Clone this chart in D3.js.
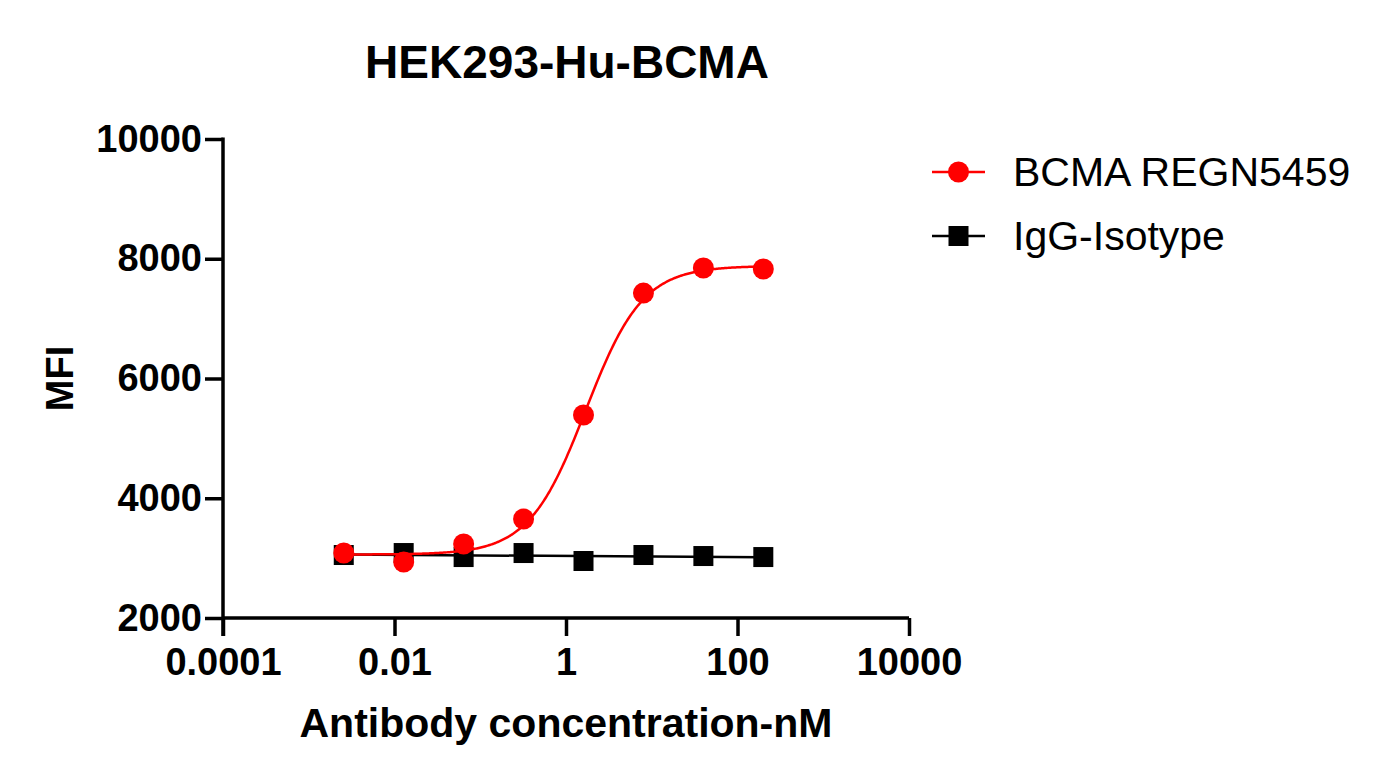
<!DOCTYPE html>
<html>
<head>
<meta charset="utf-8">
<script src="https://cdn.jsdelivr.net/npm/d3@7"></script>
<style>
  body { margin: 0; background: #fff; }
  text { font-family: "Liberation Sans", Arial, sans-serif; }
</style>
</head>
<body>
<script>
// data
const conc = [0.00256, 0.0128, 0.064, 0.32, 1.6, 8, 40, 200]
const bcma = [3085, 2935, 3236, 3653, 5390, 7427, 7845, 7828]
const isotype = [3052, 3085, 3018, 3085, 2952, 3052, 3035, 3018]
const xTicks = [0.0001, 0.01, 1, 100, 10000]
const xTickLabels = ['0.0001', '0.01', '1', '100', '10000']
const yTicks = [2000, 4000, 6000, 8000, 10000]
const seriesNames = ['BCMA REGN5459', 'IgG-Isotype']
// 4PL fit estimated for the red curve
const fitBottom = 3060, fitTop = 7880, fitLogEC50 = 0.23, fitHill = 1.31

const m = { width: 1389, height: 780, left: 223, right: 909, top: 139, bottom: 618 }

const svg = d3.select('body').append('svg')
    .attr('width', m.width)
    .attr('height', m.height)

const xScale = d3.scaleLog()
    .domain([0.0001, 10000])
    .range([m.left, m.right])

const yScale = d3.scaleLinear()
    .domain([2000, 10000])
    .range([m.bottom, m.top])

// axes
const xAxis = d3.axisBottom(xScale)
    .tickValues(xTicks)
    .tickFormat((d, i) => xTickLabels[i])
    .tickSize(18)
    .tickPadding(12)
svg.append('g')
    .attr('class', 'axis')
    .attr('transform', `translate(0,${m.bottom})`)
    .call(xAxis)

const yAxis = d3.axisLeft(yScale)
    .tickValues(yTicks)
    .tickFormat(d3.format('d'))
    .tickSize(18)
    .tickPadding(3)
svg.append('g')
    .attr('class', 'axis')
    .attr('transform', `translate(${m.left},0)`)
    .call(yAxis)

svg.selectAll('.axis line')
    .attr('stroke', '#000')
    .attr('stroke-width', 3.5)
svg.selectAll('.axis text')
    .attr('font-family', '"Liberation Sans", Arial, sans-serif')
    .attr('font-size', 38)
    .attr('font-weight', 'bold')
    .attr('fill', '#000')

// plain domain lines without outer end caps
svg.selectAll('.axis .domain').remove()
svg.append('line')
    .attr('x1', m.left).attr('x2', m.right)
    .attr('y1', m.bottom).attr('y2', m.bottom)
    .attr('stroke', '#000').attr('stroke-width', 3.5)
svg.append('line')
    .attr('x1', m.left).attr('x2', m.left)
    .attr('y1', m.top - 1.5).attr('y2', m.bottom + 18)
    .attr('stroke', '#000').attr('stroke-width', 3.5)

const line = d3.line()
    .x(d => xScale(d[0]))
    .y(d => yScale(d[1]))

// black line: least squares on log concentration
const lx = conc.map(Math.log10)
const mx = d3.mean(lx), my = d3.mean(isotype)
const slope = d3.sum(lx, (v, i) => (v - mx) * (isotype[i] - my)) / d3.sum(lx, v => (v - mx) ** 2)
const isoFit = x => my + slope * (Math.log10(x) - mx)

svg.append('path')
    .attr('d', line(d3.extent(conc).map(x => [x, isoFit(x)])))
    .attr('fill', 'none')
    .attr('stroke', '#000')
    .attr('stroke-width', 2.5)

svg.selectAll('rect.iso')
    .data(conc)
    .join('rect')
    .attr('class', 'iso')
    .attr('x', d => xScale(d) - 10)
    .attr('y', (d, i) => yScale(isotype[i]) - 10)
    .attr('width', 20)
    .attr('height', 20)
    .attr('fill', '#000')

// red fitted curve, sampled once per pixel along x
const fit = x => fitBottom + (fitTop - fitBottom) / (1 + Math.pow(10, (fitLogEC50 - Math.log10(x)) * fitHill))
const [px0, px1] = d3.extent(conc).map(xScale)
const curveX = d3.range(px0, px1, 1).concat(px1).map(p => xScale.invert(p))

svg.append('path')
    .attr('d', line(curveX.map(x => [x, fit(x)])))
    .attr('fill', 'none')
    .attr('stroke', '#ff0000')
    .attr('stroke-width', 2.5)

svg.selectAll('circle.bcma')
    .data(conc)
    .join('circle')
    .attr('class', 'bcma')
    .attr('cx', d => xScale(d))
    .attr('cy', (d, i) => yScale(bcma[i]))
    .attr('r', 10.5)
    .attr('fill', '#ff0000')

// titles
svg.append('text')
    .attr('x', 567)
    .attr('y', 78)
    .attr('text-anchor', 'middle')
    .attr('font-size', 46)
    .attr('font-weight', 'bold')
    .text('HEK293-Hu-BCMA')

svg.append('text')
    .attr('x', (m.left + m.right) / 2)
    .attr('y', 737)
    .attr('text-anchor', 'middle')
    .attr('font-size', 41)
    .attr('font-weight', 'bold')
    .text('Antibody concentration-nM')

svg.append('text')
    .attr('transform', `translate(73,${(m.top + m.bottom) / 2})rotate(-90)`)
    .attr('text-anchor', 'middle')
    .attr('font-size', 38)
    .attr('font-weight', 'bold')
    .text('MFI')

// legend
const colors = ['#ff0000', '#000']
const legend = svg.selectAll('g.legend')
    .data(seriesNames)
    .join('g')
    .attr('class', 'legend')
    .attr('transform', (d, i) => `translate(932,${172 + i * 64})`)

legend.append('line')
    .attr('x1', 0).attr('x2', 53)
    .attr('stroke', (d, i) => colors[i])
    .attr('stroke-width', 2.5)
legend.filter((d, i) => i === 0).append('circle')
    .attr('cx', 26.5).attr('r', 10.5).attr('fill', colors[0])
legend.filter((d, i) => i === 1).append('rect')
    .attr('x', 16.5).attr('y', -10).attr('width', 20).attr('height', 20).attr('fill', colors[1])
legend.append('text')
    .attr('x', 81)
    .attr('y', 14)
    .attr('font-size', 41)
    .text(d => d)
</script>
</body>
</html>
